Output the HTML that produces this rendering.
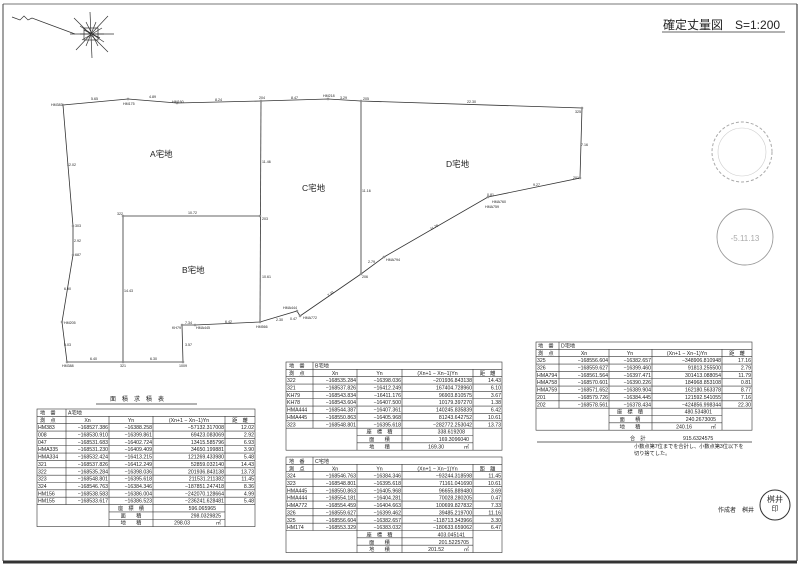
<!DOCTYPE html>
<html><head><meta charset="utf-8">
<style>
html,body{margin:0;padding:0;background:#fff;}
svg{display:block;font-family:"Liberation Sans","Noto Sans CJK JP",sans-serif;}
.t{font-size:5.2px;fill:#222;}
.r{text-anchor:end;}
.c{text-anchor:middle;}
.p{font-size:3.6px;fill:#222;}
.g line,.g rect{stroke:#333;stroke-width:0.6;fill:none;}
</style></head><body>
<svg width="800" height="566" viewBox="0 0 800 566" xmlns="http://www.w3.org/2000/svg">
<rect width="800" height="566" fill="#fff"/>
<line x1="3" y1="4" x2="797" y2="4" stroke="#777" stroke-width="1"/>
<line x1="3" y1="4" x2="3" y2="561" stroke="#444" stroke-width="1"/>
<line x1="797" y1="4" x2="797" y2="561" stroke="#444" stroke-width="1.2"/>
<line x1="3" y1="562" x2="797" y2="562" stroke="#333" stroke-width="3"/>

<g stroke="#333" stroke-width="0.7" fill="none">
<polyline points="12,17 20,20 24,16 28,20 32,18 48,24 75,34"/>
<line x1="70" y1="34" x2="114" y2="34"/>
<line x1="90" y1="12" x2="92" y2="58"/>
<line x1="74" y1="18" x2="108" y2="52"/>
<line x1="108" y1="16" x2="76" y2="50"/>
<line x1="80" y1="26" x2="104" y2="42"/>
<line x1="82" y1="40" x2="102" y2="28"/>
<line x1="84" y1="30" x2="100" y2="38"/>
<line x1="86" y1="22" x2="98" y2="46"/>
<line x1="96" y1="22" x2="86" y2="46"/>
<line x1="80" y1="34" x2="104" y2="34"/>
<rect x="84" y="28" width="14" height="12"/>
</g>

<text x="663" y="29" style="font-size:12px;fill:#222;">確定丈量図　S=1:200</text>
<line x1="662" y1="32" x2="785" y2="32" stroke="#333" stroke-width="0.7"/>

<circle cx="742" cy="152" r="30" fill="none" stroke="#aaa" stroke-width="1" stroke-dasharray="3,2"/>
<circle cx="742" cy="152" r="24" fill="none" stroke="#ccc" stroke-width="0.6"/>
<circle cx="745" cy="237" r="28" fill="none" stroke="#999" stroke-width="0.9"/>
<text x="745" y="241" class="c" style="font-size:8px;fill:#aaa;">-5.11.13</text>

<g stroke="#333" stroke-width="0.8" fill="none">
<polyline points="63,105 128,99 177,103 261,101 328,99 361,101 582,108 580,178 488,197 384,257 361,274 300,316 297,311 260,322 195,325 182,325 183,362 123,362 67,362 62,322 73,255 73,226 63,105"/>
<line x1="261" y1="101" x2="260" y2="322"/>
<line x1="123" y1="216" x2="260" y2="216"/>
<line x1="123" y1="216" x2="123" y2="362"/>
<line x1="361" y1="101" x2="361" y2="274"/>
</g>
<g fill="#fff" stroke="#333" stroke-width="0.5">
<circle cx="63" cy="105" r="1"/><circle cx="128" cy="99" r="1"/><circle cx="177" cy="103" r="1"/><circle cx="261" cy="101" r="1"/><circle cx="328" cy="99" r="1"/><circle cx="361" cy="101" r="1"/><circle cx="582" cy="108" r="1"/><circle cx="580" cy="178" r="1"/><circle cx="488" cy="197" r="1"/><circle cx="384" cy="257" r="1"/><circle cx="361" cy="274" r="1"/><circle cx="300" cy="316" r="1"/><circle cx="297" cy="311" r="1"/><circle cx="260" cy="322" r="1"/><circle cx="195" cy="325" r="1"/><circle cx="182" cy="325" r="1"/><circle cx="183" cy="362" r="1"/><circle cx="123" cy="362" r="1"/><circle cx="67" cy="362" r="1"/><circle cx="62" cy="322" r="1"/><circle cx="73" cy="255" r="1"/><circle cx="73" cy="226" r="1"/><circle cx="123" cy="216" r="1"/><circle cx="260" cy="216" r="1"/>
</g>
<g class="p">
<text x="51" y="106">HM383</text><text x="123" y="105">HM175</text><text x="172" y="103">HM160</text><text x="259" y="99">204</text><text x="323" y="97">HM218</text><text x="363" y="100">205</text><text x="575" y="113">325</text><text x="573" y="179">201</text><text x="485" y="208">HMA759</text><text x="492" y="203">HMA760</text><text x="386" y="261">HMA794</text><text x="362" y="278">206</text><text x="303" y="319">HMA772</text><text x="283" y="309">HMA444</text><text x="256" y="328">HM566</text><text x="196" y="329">HMA445</text><text x="172" y="329">KH79</text><text x="179" y="367">1009</text><text x="120" y="367">321</text><text x="62" y="367">HM388</text><text x="64" y="324">HM205</text><text x="75" y="256">687</text><text x="75" y="227">303</text><text x="117" y="215">322</text><text x="262" y="220">203</text>
</g>
<g class="p">
<text x="91" y="100">5.65</text><text x="149" y="98">4.89</text><text x="215" y="101">8.24</text><text x="291" y="99">8.47</text><text x="340" y="99">3.29</text><text x="467" y="103">22.30</text>
<text x="581" y="146">7.16</text><text x="533" y="186">9.27</text><text x="487" y="196">0.81</text>
<text x="430" y="229" transform="rotate(-28 433 228)">11.78</text><text x="368" y="263">2.79</text>
<text x="326" y="295" transform="rotate(-35 330 292)">7.33</text><text x="276" y="321">2.30</text><text x="290" y="320">0.47</text>
<text x="225" y="323">6.42</text><text x="185" y="324">7.34</text><text x="185" y="346">3.57</text><text x="150" y="360">6.30</text><text x="90" y="360">6.40</text>
<text x="64" y="346">5.03</text><text x="64" y="290">6.90</text><text x="74" y="242">2.92</text><text x="67" y="166">12.02</text>
<text x="262" y="163">11.46</text><text x="262" y="278">10.61</text><text x="124" y="292">14.43</text><text x="188" y="214">10.72</text><text x="362" y="192">11.16</text>
</g>
<g style="font-size:8.5px;fill:#222;">
<text x="150" y="157">A宅地</text><text x="302" y="191">C宅地</text><text x="446" y="167">D宅地</text><text x="182" y="273">B宅地</text>
</g>

<text x="110" y="401" style="font-size:6px;fill:#222;letter-spacing:6px;">面積求積表</text>
<line x1="96" y1="404" x2="197" y2="404" stroke="#333" stroke-width="0.7"/>

<!-- A table -->
<g class="g">
<rect x="37" y="409" width="218" height="117.6"/>
<line x1="37" y1="416.35" x2="255" y2="416.35"/><line x1="37" y1="423.7" x2="255" y2="423.7"/><line x1="37" y1="431.05" x2="255" y2="431.05"/><line x1="37" y1="438.4" x2="255" y2="438.4"/><line x1="37" y1="445.75" x2="255" y2="445.75"/><line x1="37" y1="453.1" x2="255" y2="453.1"/><line x1="37" y1="460.45" x2="255" y2="460.45"/><line x1="37" y1="467.8" x2="255" y2="467.8"/><line x1="37" y1="475.15" x2="255" y2="475.15"/><line x1="37" y1="482.5" x2="255" y2="482.5"/><line x1="37" y1="489.85" x2="255" y2="489.85"/><line x1="37" y1="497.2" x2="255" y2="497.2"/><line x1="37" y1="504.55" x2="255" y2="504.55"/>
<line x1="109" y1="511.9" x2="225" y2="511.9"/><line x1="109" y1="519.25" x2="225" y2="519.25"/>
<line x1="66" y1="409" x2="66" y2="504.55"/>
<line x1="109" y1="416.35" x2="109" y2="526.6"/>
<line x1="153" y1="416.35" x2="153" y2="526.6"/>
<line x1="225" y1="416.35" x2="225" y2="526.6"/>
</g>
<g class="t" transform="translate(0,1)">
<text x="40" y="413.5">地　番</text><text x="68" y="413.5">A宅地</text>
<text x="40" y="420.8">測　点</text><text x="87.5" y="420.8" class="c">Xn</text><text x="131" y="420.8" class="c">Yn</text><text x="189" y="420.8" class="c">(Xn+1 − Xn−1)Yn</text><text x="240" y="420.8" class="c">距　離</text>
<text x="38" y="428.2">HM383</text><text x="108" y="428.2" class="r">−168527.386</text><text x="152" y="428.2" class="r">−16388.258</text><text x="224" y="428.2" class="r">−57132.317008</text><text x="254" y="428.2" class="r">12.02</text>
<text x="38" y="435.5">008</text><text x="108" y="435.5" class="r">−168530.910</text><text x="152" y="435.5" class="r">−16399.861</text><text x="224" y="435.5" class="r">69423.083069</text><text x="254" y="435.5" class="r">2.92</text>
<text x="38" y="442.9">047</text><text x="108" y="442.9" class="r">−168531.683</text><text x="152" y="442.9" class="r">−16402.724</text><text x="224" y="442.9" class="r">13415.585796</text><text x="254" y="442.9" class="r">6.93</text>
<text x="38" y="450.2">HMA335</text><text x="108" y="450.2" class="r">−168531.230</text><text x="152" y="450.2" class="r">−16409.409</text><text x="224" y="450.2" class="r">34650.199881</text><text x="254" y="450.2" class="r">3.90</text>
<text x="38" y="457.6">HMA334</text><text x="108" y="457.6" class="r">−168532.424</text><text x="152" y="457.6" class="r">−16413.215</text><text x="224" y="457.6" class="r">121269.433980</text><text x="254" y="457.6" class="r">5.48</text>
<text x="38" y="464.9">321</text><text x="108" y="464.9" class="r">−168537.826</text><text x="152" y="464.9" class="r">−16412.249</text><text x="224" y="464.9" class="r">52859.032140</text><text x="254" y="464.9" class="r">14.43</text>
<text x="38" y="472.3">322</text><text x="108" y="472.3" class="r">−168535.284</text><text x="152" y="472.3" class="r">−16398.036</text><text x="224" y="472.3" class="r">201936.843138</text><text x="254" y="472.3" class="r">13.73</text>
<text x="38" y="479.6">323</text><text x="108" y="479.6" class="r">−168548.801</text><text x="152" y="479.6" class="r">−16395.618</text><text x="224" y="479.6" class="r">211531.211382</text><text x="254" y="479.6" class="r">11.45</text>
<text x="38" y="487">324</text><text x="108" y="487" class="r">−168546.763</text><text x="152" y="487" class="r">−16384.346</text><text x="224" y="487" class="r">−187851.247418</text><text x="254" y="487" class="r">8.36</text>
<text x="38" y="494.3">HM156</text><text x="108" y="494.3" class="r">−168538.583</text><text x="152" y="494.3" class="r">−16386.004</text><text x="224" y="494.3" class="r">−242070.128664</text><text x="254" y="494.3" class="r">4.99</text>
<text x="38" y="501.7">HM155</text><text x="108" y="501.7" class="r">−168533.617</text><text x="152" y="501.7" class="r">−16386.523</text><text x="224" y="501.7" class="r">−236241.628481</text><text x="254" y="501.7" class="r">5.48</text>
<text x="131" y="509" class="c">座　標　積</text><text x="216" y="509" class="r">596.065965</text>
<text x="131" y="516.4" class="c">面　　積</text><text x="221" y="516.4" class="r">298.0329825</text>
<text x="131" y="523.7" class="c">地　　積</text><text x="190" y="523.7" class="r">298.03</text><text x="221" y="523.7" class="r">㎡</text>
</g>

<!-- B table -->
<g class="g">
<rect x="286" y="362" width="216" height="88.2"/>
<line x1="286" y1="369.35" x2="502" y2="369.35"/><line x1="286" y1="376.7" x2="502" y2="376.7"/><line x1="286" y1="384.05" x2="502" y2="384.05"/><line x1="286" y1="391.4" x2="502" y2="391.4"/><line x1="286" y1="398.75" x2="502" y2="398.75"/><line x1="286" y1="406.1" x2="502" y2="406.1"/><line x1="286" y1="413.45" x2="502" y2="413.45"/><line x1="286" y1="420.8" x2="502" y2="420.8"/><line x1="286" y1="428.15" x2="502" y2="428.15"/>
<line x1="357" y1="435.5" x2="473" y2="435.5"/><line x1="357" y1="442.85" x2="473" y2="442.85"/>
<line x1="313" y1="362" x2="313" y2="428.15"/>
<line x1="357" y1="369.35" x2="357" y2="450.2"/><line x1="402" y1="369.35" x2="402" y2="450.2"/><line x1="473" y1="369.35" x2="473" y2="450.2"/>
</g>
<g class="t" transform="translate(0,1)">
<text x="289" y="366.5">地　番</text><text x="315" y="366.5">B宅地</text>
<text x="289" y="373.8">測　点</text><text x="335" y="373.8" class="c">Xn</text><text x="379.5" y="373.8" class="c">Yn</text><text x="437.5" y="373.8" class="c">(Xn+1 − Xn−1)Yn</text><text x="487.5" y="373.8" class="c">距　離</text>
<text x="287" y="381.2">322</text><text x="356" y="381.2" class="r">−168535.284</text><text x="401" y="381.2" class="r">−16398.036</text><text x="472" y="381.2" class="r">−201936.843138</text><text x="501" y="381.2" class="r">14.43</text>
<text x="287" y="388.5">321</text><text x="356" y="388.5" class="r">−168537.826</text><text x="401" y="388.5" class="r">−16412.249</text><text x="472" y="388.5" class="r">167404.728960</text><text x="501" y="388.5" class="r">6.10</text>
<text x="287" y="395.9">KH79</text><text x="356" y="395.9" class="r">−168543.834</text><text x="401" y="395.9" class="r">−16411.176</text><text x="472" y="395.9" class="r">96903.810575</text><text x="501" y="395.9" class="r">3.67</text>
<text x="287" y="403.2">KH78</text><text x="356" y="403.2" class="r">−168543.604</text><text x="401" y="403.2" class="r">−16407.500</text><text x="472" y="403.2" class="r">10179.397270</text><text x="501" y="403.2" class="r">1.38</text>
<text x="287" y="410.6">HMA444</text><text x="356" y="410.6" class="r">−168544.387</text><text x="401" y="410.6" class="r">−16407.361</text><text x="472" y="410.6" class="r">140245.835839</text><text x="501" y="410.6" class="r">6.42</text>
<text x="287" y="417.9">HMA445</text><text x="356" y="417.9" class="r">−168550.863</text><text x="401" y="417.9" class="r">−16405.968</text><text x="472" y="417.9" class="r">81243.642752</text><text x="501" y="417.9" class="r">10.61</text>
<text x="287" y="425.3">323</text><text x="356" y="425.3" class="r">−168548.801</text><text x="401" y="425.3" class="r">−16395.618</text><text x="472" y="425.3" class="r">−282772.253042</text><text x="501" y="425.3" class="r">13.73</text>
<text x="379.5" y="432.6" class="c">座　標　積</text><text x="465" y="432.6" class="r">338.619208</text>
<text x="379.5" y="440" class="c">面　　積</text><text x="469" y="440" class="r">169.3096040</text>
<text x="379.5" y="447.3" class="c">地　　積</text><text x="444" y="447.3" class="r">169.30</text><text x="469" y="447.3" class="r">㎡</text>
</g>

<!-- C table -->
<g transform="translate(0,3)">
<g class="g">
<rect x="286" y="454" width="216" height="95.55"/>
<line x1="286" y1="461.35" x2="502" y2="461.35"/><line x1="286" y1="468.7" x2="502" y2="468.7"/><line x1="286" y1="476.05" x2="502" y2="476.05"/><line x1="286" y1="483.4" x2="502" y2="483.4"/><line x1="286" y1="490.75" x2="502" y2="490.75"/><line x1="286" y1="498.1" x2="502" y2="498.1"/><line x1="286" y1="505.45" x2="502" y2="505.45"/><line x1="286" y1="512.8" x2="502" y2="512.8"/><line x1="286" y1="520.15" x2="502" y2="520.15"/><line x1="286" y1="527.5" x2="502" y2="527.5"/>
<line x1="357" y1="534.85" x2="473" y2="534.85"/><line x1="357" y1="542.2" x2="473" y2="542.2"/>
<line x1="313" y1="454" x2="313" y2="527.5"/>
<line x1="357" y1="461.35" x2="357" y2="549.55"/><line x1="402" y1="461.35" x2="402" y2="549.55"/><line x1="473" y1="461.35" x2="473" y2="549.55"/>
</g>
<g class="t" transform="translate(0,0.5)">
<text x="289" y="459.5">地　番</text><text x="315" y="459.5">C宅地</text>
<text x="289" y="466.8">測　点</text><text x="335" y="466.8" class="c">Xn</text><text x="379.5" y="466.8" class="c">Yn</text><text x="437.5" y="466.8" class="c">(Xn+1 − Xn−1)Yn</text><text x="487.5" y="466.8" class="c">距　離</text>
<text x="287" y="474.2">324</text><text x="356" y="474.2" class="r">−168546.763</text><text x="401" y="474.2" class="r">−16384.346</text><text x="472" y="474.2" class="r">−93244.318598</text><text x="501" y="474.2" class="r">11.45</text>
<text x="287" y="481.5">323</text><text x="356" y="481.5" class="r">−168548.801</text><text x="401" y="481.5" class="r">−16395.618</text><text x="472" y="481.5" class="r">71161.041690</text><text x="501" y="481.5" class="r">10.61</text>
<text x="287" y="488.9">HMA445</text><text x="356" y="488.9" class="r">−168550.863</text><text x="401" y="488.9" class="r">−16405.968</text><text x="472" y="488.9" class="r">96655.889480</text><text x="501" y="488.9" class="r">3.69</text>
<text x="287" y="496.2">HMA444</text><text x="356" y="496.2" class="r">−168554.181</text><text x="401" y="496.2" class="r">−16404.281</text><text x="472" y="496.2" class="r">70028.280205</text><text x="501" y="496.2" class="r">0.47</text>
<text x="287" y="503.6">HMA772</text><text x="356" y="503.6" class="r">−168554.459</text><text x="401" y="503.6" class="r">−16404.663</text><text x="472" y="503.6" class="r">100699.827832</text><text x="501" y="503.6" class="r">7.33</text>
<text x="287" y="510.9">326</text><text x="356" y="510.9" class="r">−168559.627</text><text x="401" y="510.9" class="r">−16399.462</text><text x="472" y="510.9" class="r">39485.219700</text><text x="501" y="510.9" class="r">11.16</text>
<text x="287" y="518.3">325</text><text x="356" y="518.3" class="r">−168556.604</text><text x="401" y="518.3" class="r">−16382.657</text><text x="472" y="518.3" class="r">−118713.343966</text><text x="501" y="518.3" class="r">3.30</text>
<text x="287" y="525.6">HM174</text><text x="356" y="525.6" class="r">−168553.329</text><text x="401" y="525.6" class="r">−16383.032</text><text x="472" y="525.6" class="r">−180633.659062</text><text x="501" y="525.6" class="r">6.47</text>
<text x="379.5" y="533" class="c">座　標　積</text><text x="465" y="533" class="r">403.045141</text>
<text x="379.5" y="540.3" class="c">面　　積</text><text x="469" y="540.3" class="r">201.5225705</text>
<text x="379.5" y="547.7" class="c">地　　積</text><text x="444" y="547.7" class="r">201.52</text><text x="469" y="547.7" class="r">㎡</text>
</g>
</g>

<!-- D table -->
<g class="g">
<rect x="536" y="342" width="216" height="88.2"/>
<line x1="536" y1="349.35" x2="752" y2="349.35"/><line x1="536" y1="356.7" x2="752" y2="356.7"/><line x1="536" y1="364.05" x2="752" y2="364.05"/><line x1="536" y1="371.4" x2="752" y2="371.4"/><line x1="536" y1="378.75" x2="752" y2="378.75"/><line x1="536" y1="386.1" x2="752" y2="386.1"/><line x1="536" y1="393.45" x2="752" y2="393.45"/><line x1="536" y1="400.8" x2="752" y2="400.8"/><line x1="536" y1="408.15" x2="752" y2="408.15"/>
<line x1="609" y1="415.5" x2="722" y2="415.5"/><line x1="609" y1="422.85" x2="722" y2="422.85"/>
<line x1="559" y1="342" x2="559" y2="408.15"/>
<line x1="609" y1="349.35" x2="609" y2="430.2"/><line x1="652" y1="349.35" x2="652" y2="430.2"/><line x1="722" y1="349.35" x2="722" y2="430.2"/>
</g>
<g class="t">
<text x="538" y="347.5">地　番</text><text x="561" y="347.5">D宅地</text>
<text x="538" y="354.8">測　点</text><text x="584" y="354.8" class="c">Xn</text><text x="630" y="354.8" class="c">Yn</text><text x="687" y="354.8" class="c">(Xn+1 − Xn−1)Yn</text><text x="737" y="354.8" class="c">距　離</text>
<text x="537" y="362.2">325</text><text x="608" y="362.2" class="r">−168556.604</text><text x="651" y="362.2" class="r">−16382.657</text><text x="721" y="362.2" class="r">−348906.810948</text><text x="751" y="362.2" class="r">17.16</text>
<text x="537" y="369.5">326</text><text x="608" y="369.5" class="r">−168559.627</text><text x="651" y="369.5" class="r">−16399.460</text><text x="721" y="369.5" class="r">91813.255500</text><text x="751" y="369.5" class="r">2.79</text>
<text x="537" y="376.9">HMA794</text><text x="608" y="376.9" class="r">−168561.564</text><text x="651" y="376.9" class="r">−16397.471</text><text x="721" y="376.9" class="r">301413.088054</text><text x="751" y="376.9" class="r">11.79</text>
<text x="537" y="384.2">HMA758</text><text x="608" y="384.2" class="r">−168570.601</text><text x="651" y="384.2" class="r">−16390.226</text><text x="721" y="384.2" class="r">184968.853108</text><text x="751" y="384.2" class="r">0.81</text>
<text x="537" y="391.6">HMA759</text><text x="608" y="391.6" class="r">−168571.652</text><text x="651" y="391.6" class="r">−16389.904</text><text x="721" y="391.6" class="r">162180.563378</text><text x="751" y="391.6" class="r">8.77</text>
<text x="537" y="398.9">201</text><text x="608" y="398.9" class="r">−168579.726</text><text x="651" y="398.9" class="r">−16384.445</text><text x="721" y="398.9" class="r">121592.541055</text><text x="751" y="398.9" class="r">7.16</text>
<text x="537" y="406.3">202</text><text x="608" y="406.3" class="r">−168578.561</text><text x="651" y="406.3" class="r">−16378.434</text><text x="721" y="406.3" class="r">−424856.998344</text><text x="751" y="406.3" class="r">22.30</text>
<text x="630" y="413.6" class="c">座　標　積</text><text x="712" y="413.6" class="r">480.534801</text>
<text x="630" y="421" class="c">面　　積</text><text x="716" y="421" class="r">240.2673005</text>
<text x="630" y="428.3" class="c">地　　積</text><text x="692" y="428.3" class="r">240.16</text><text x="716" y="428.3" class="r">㎡</text>
</g>

<text x="630" y="440" class="t">合　計</text>
<text x="683" y="440" class="t">915.6324575</text>
<line x1="537" y1="442" x2="752" y2="442" stroke="#333" stroke-width="0.7"/>
<text x="634" y="448" class="t">小数点第7位までを合計し、小数点第3位以下を</text>
<text x="634" y="455" class="t">切り捨てした。</text>

<text x="718" y="512" style="font-size:6px;fill:#222;">作成者　桝井</text>
<circle cx="775" cy="505" r="15" fill="none" stroke="#333" stroke-width="1"/>
<text x="775" y="502" class="c" style="font-size:8px;fill:#333;">桝井</text>
<text x="775" y="511" class="c" style="font-size:7px;fill:#333;">印</text>
</svg>
</body></html>
